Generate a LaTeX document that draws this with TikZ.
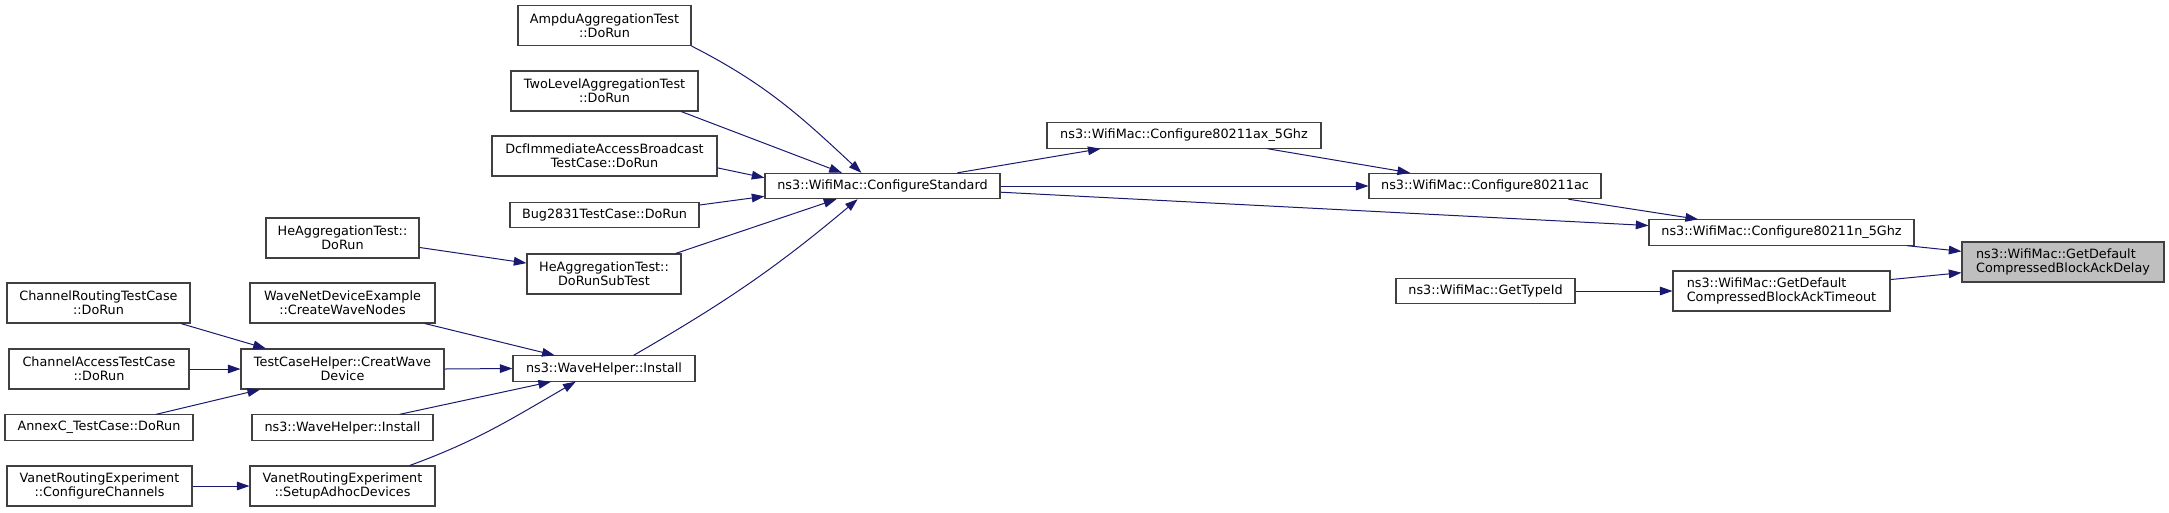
\documentclass[tikz,border=0pt]{standalone}
\usepackage{fontspec}
\setmainfont{DejaVu Sans}
\usetikzlibrary{arrows.meta}
\definecolor{edgeblue}{HTML}{191970}
\definecolor{boxline}{HTML}{404040}

\begin{document}
\begin{tikzpicture}[x=0.75pt,y=0.75pt,
  every node/.style={align=center,font=\fontsize{9.6}{10.7}\selectfont},
  box/.style={draw=boxline,line width=0.8pt,fill=white,inner xsep=8pt,inner ysep=0pt,minimum height=19pt},
  tall/.style={minimum height=30pt},
  focus/.style={fill=black!25},
  call/.style={->,draw=edgeblue,line width=0.75pt},
  >={Triangle[length=9.5pt,width=6.5pt]}]
\useasboundingbox (0,0) rectangle (2169,-512);
% left column
\node[box,tall,minimum width=137.25pt] (chrouting) at (98.5,-303) {ChannelRoutingTestCase\\::DoRun};
\node[box,tall,minimum width=135pt] (chaccess) at (99,-369) {ChannelAccessTestCase\\::DoRun};
\node[box,minimum width=141pt] (annexc) at (99,-427.5) {AnnexC\_TestCase::DoRun};
\node[box,tall,minimum width=138.75pt] (vanetconf) at (99.5,-486) {VanetRoutingExperiment\\::ConfigureChannels};
% second column
\node[box,tall,minimum width=114.75pt] (hedorun) at (342.5,-238) {HeAggregationTest::\\DoRun};
\node[box,tall,minimum width=138.75pt] (wavenet) at (342.5,-303) {WaveNetDeviceExample\\::CreateWaveNodes};
\node[box,tall,minimum width=152.25pt] (tch) at (342.5,-369) {TestCaseHelper::CreatWave\\Device};
\node[box,minimum width=135.75pt] (waveinst2) at (342.5,-427.5) {ns3::WaveHelper::Install};
\node[box,tall,minimum width=138.75pt] (vanetsetup) at (342.5,-486) {VanetRoutingExperiment\\::SetupAdhocDevices};
% third column
\node[box,tall,minimum width=129.75pt] (ampdu) at (604.5,-25.5) {AmpduAggregationTest\\::DoRun};
\node[box,tall,minimum width=140.25pt] (twolevel) at (604.5,-91) {TwoLevelAggregationTest\\::DoRun};
\node[box,tall,minimum width=168.75pt] (dcf) at (604.5,-156) {DcfImmediateAccessBroadcast\\TestCase::DoRun};
\node[box,minimum width=141.75pt] (bug) at (604.5,-215) {Bug2831TestCase::DoRun};
\node[box,tall,minimum width=115.5pt] (hesub) at (604,-274) {HeAggregationTest::\\DoRunSubTest};
\node[box,minimum width=136.5pt] (waveinst) at (604,-368.5) {ns3::WaveHelper::Install};
% wifi mac
\node[box,minimum width=176.25pt] (cs) at (882.5,-186) {ns3::WifiMac::ConfigureStandard};
\node[box,minimum width=205.5pt] (ax) at (1184,-135.5) {ns3::WifiMac::Configure80211ax\_5Ghz};
\node[box,minimum width=174pt] (ac) at (1485,-186) {ns3::WifiMac::Configure80211ac};
\node[box,minimum width=134.25pt] (gettypeid) at (1485.5,-291) {ns3::WifiMac::GetTypeId};
\node[box,minimum width=198.75pt] (n5) at (1781.5,-232.5) {ns3::WifiMac::Configure80211n\_5Ghz};
\node[box,tall,align=left,minimum width=162.75pt] (timeout) at (1781.5,-291) {ns3::WifiMac::GetDefault\\CompressedBlockAckTimeout};
\node[box,tall,focus,align=left,minimum width=151.5pt] (delay) at (2063,-262) {ns3::WifiMac::GetDefault\\CompressedBlockAckDelay};
% calls
\draw[call] (chrouting.-14) -- (tch.165);
\draw[call] (chaccess.east) -- (tch.west);
\draw[call] (annexc.13) -- (tch.194);
\draw[call] (vanetconf.east) -- (vanetsetup.west);
\draw[call] (hedorun.-7) -- (hesub.172);
\draw[call] (wavenet.-14) -- (waveinst.165);
\draw[call] (tch.east) -- (waveinst.west);
\draw[call] (waveinst2.13) -- (waveinst.194);
\draw[call] (vanetsetup.17) to[out=20,in=-150] (waveinst.205);
\draw[call] (ampdu.south east) to[out=-27,in=137] (cs.148);
\draw[call] (twolevel.-15) -- (cs.162);
\draw[call] (dcf.-6) -- (cs.176);
\draw[call] (bug.6) -- (cs.185);
\draw[call] (hesub.16) -- (cs.196);
\draw[call] (waveinst.24) to[out=30,in=-140] (cs.208);
\draw[call] (cs.10) -- (ax.189);
\draw[call] (cs.east) -- (ac.west);
\draw[call] (cs.-3) -- (n5.177);
\draw[call] (ax.-9) -- (ac.170);
\draw[call] (ac.-9) -- (n5.171);
\draw[call] (gettypeid.east) -- (timeout.west);
\draw[call] (n5.-6) -- (delay.174);
\draw[call] (timeout.6) -- (delay.186);
\end{tikzpicture}
\end{document}
